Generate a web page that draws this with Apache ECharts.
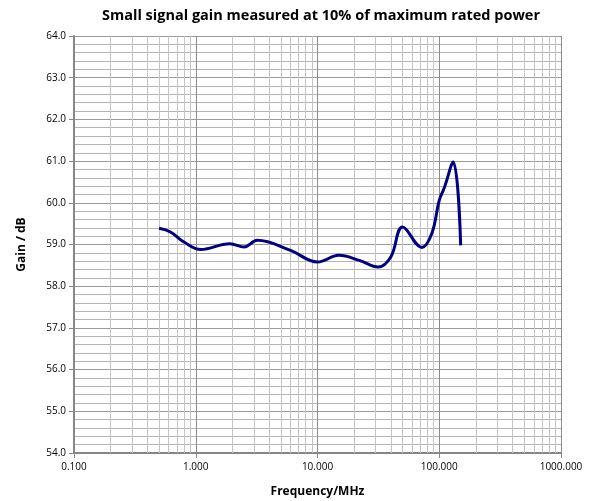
<!DOCTYPE html>
<html>
<head>
<meta charset="utf-8">
<script src="https://cdn.jsdelivr.net/npm/echarts@6/dist/echarts.min.js"></script>
<style>html,body{margin:0;padding:0;background:#fff}#c{width:595px;height:501px}</style>
</head>
<body>
<div id="c"></div>
<script>
var titleText = 'Small signal gain measured at 10% of maximum rated power';
var xName = 'Frequency/MHz';
var yName = 'Gain / dB';
var frequency = [0.5, 0.62, 0.8, 1.1, 1.9, 2.5, 3.2, 6.0, 10, 15, 22, 31.6, 40, 50, 72, 87, 100, 110, 130, 150];
var gain = [59.39, 59.30, 59.06, 58.88, 59.02, 58.94, 59.10, 58.86, 58.58, 58.74, 58.62, 58.46, 58.70, 59.42, 58.93, 59.27, 60.06, 60.36, 60.98, 58.98];
var xMin = 0.1, xMax = 1000;
var yMin = 54, yMax = 64, yStep = 1;

var points = frequency.map(function (f, i) { return [f, gain[i]]; });
var minorX = [];
for (var d = xMin; d < xMax; d *= 10) {
  for (var k = 2; k <= 9; k++) minorX.push({ xAxis: +(d * k).toPrecision(6) });
}
var font = '"Open Sans", "Noto Sans", sans-serif';
var chart = echarts.init(document.getElementById('c'), null, { renderer: 'canvas' });
chart.setOption({
  animation: false,
  backgroundColor: '#ffffff',
  title: {
    text: titleText, left: 97, top: 3,
    textStyle: { fontFamily: font, fontWeight: 'bold', fontSize: 14.5, color: '#000' }
  },
  grid: { left: 74, right: 34, top: 36, bottom: 48, containLabel: false, outerBoundsMode: 'none' },
  xAxis: {
    type: 'log', logBase: 10, min: xMin, max: xMax,
    name: xName, nameLocation: 'middle', nameGap: 33,
    nameTextStyle: { fontFamily: font, fontWeight: 'bold', fontSize: 12, color: '#000' },
    axisLine: { show: true, lineStyle: { color: '#868686', width: 2 } },
    axisTick: { show: true, length: 5, lineStyle: { color: '#868686' } },
    axisLabel: { fontFamily: font, fontSize: 10, color: '#000', margin: 9,
      formatter: function (v) { return (+v).toFixed(3); } },
    splitLine: { show: true, lineStyle: { color: '#8c8c8c', width: 1 } }
  },
  yAxis: {
    type: 'value', min: yMin, max: yMax, interval: yStep,
    name: yName, nameLocation: 'middle', nameGap: 46,
    nameTextStyle: { fontFamily: font, fontWeight: 'bold', fontSize: 12, color: '#000' },
    axisLine: { show: true, lineStyle: { color: '#868686', width: 2 } },
    axisTick: { show: true, length: 5, lineStyle: { color: '#868686' } },
    axisLabel: { fontFamily: font, fontSize: 10, color: '#000', margin: 8,
      formatter: function (v) { return (+v).toFixed(1); } },
    splitLine: { show: true, lineStyle: { color: '#9a9a9a', width: 1 } },
    minorTick: { show: false, splitNumber: 5 },
    minorSplitLine: { show: true, lineStyle: { color: '#b4b4b4', width: 1 } }
  },
  series: [{
    type: 'line', data: points, smooth: 0.4, showSymbol: false, symbol: 'none',
    lineStyle: { color: '#000080', width: 3 },
    z: 5,
    markLine: {
      silent: true, symbol: 'none', label: { show: false },
      lineStyle: { color: '#c4c4c4', width: 1, type: 'solid' },
      animation: false,
      data: minorX, z: 1
    }
  }]
});
</script>
</body>
</html>
